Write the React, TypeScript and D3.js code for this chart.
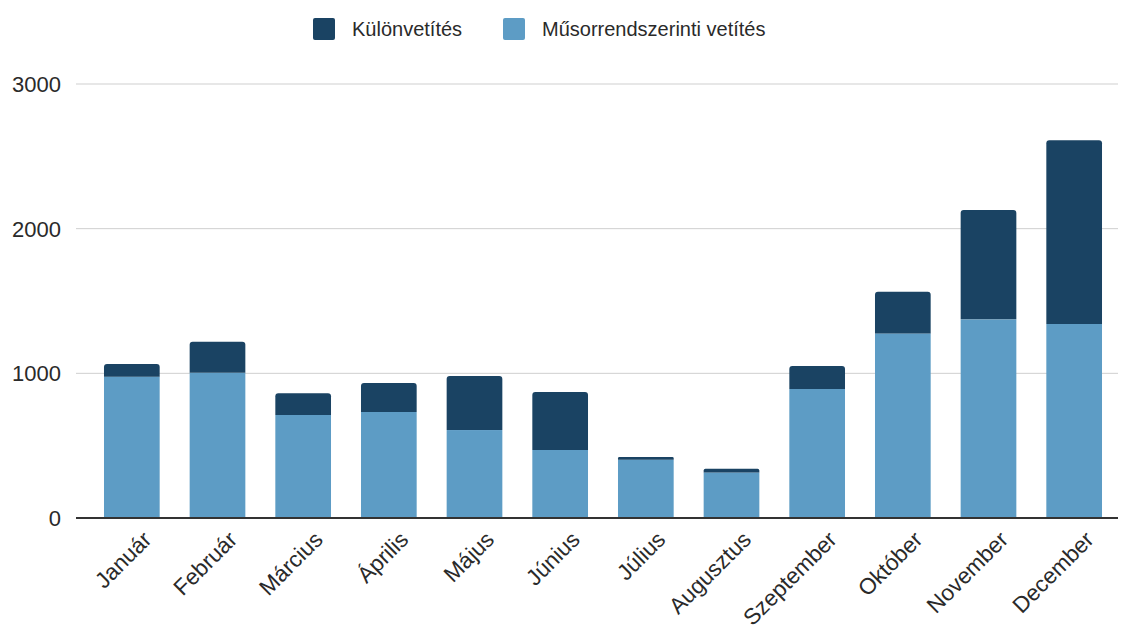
import { useEffect, useRef } from 'react';
import * as d3 from 'd3';

const months = [
  'Január', 'Február', 'Március', 'Április', 'Május', 'Június',
  'Július', 'Augusztus', 'Szeptember', 'Október', 'November', 'December',
];
// Műsorrendszerinti vetítés (bottom segment)
const regular = [977, 1004, 712, 733, 608, 470, 403, 315, 892, 1276, 1373, 1341];
// Különvetítés (top segment)
const special = [88, 214, 150, 200, 373, 401, 18, 25, 158, 288, 756, 1271];
const yTicks = [0, 1000, 2000, 3000];

const seriesNames = ['Különvetítés', 'Műsorrendszerinti vetítés'];
const DARK = '#1a4363';
const LIGHT = '#5d9cc5';

export default function App() {
  const svgRef = useRef<SVGSVGElement>(null);
  const width = 1121;
  const height = 632;

  useEffect(() => {
    if (!svgRef.current) return;
    const svg = d3.select(svgRef.current);
    svg.selectAll('*').remove();

    const font = '"Liberation Sans", Arial, sans-serif';
    const left = 76;
    const right = 1118;

    const x = d3.scaleBand<string>()
      .domain(months)
      .range([89, 1117])
      .paddingInner(0.35)
      .paddingOuter(0.175);

    const y = d3.scaleLinear().domain([0, 3000]).range([518, 84]);

    // gridlines
    svg.append('g')
      .selectAll('line')
      .data(yTicks.filter(d => d > 0))
      .join('line')
      .attr('x1', left)
      .attr('x2', right)
      .attr('y1', d => y(d))
      .attr('y2', d => y(d))
      .attr('stroke', '#cfcfcf')
      .attr('stroke-width', 1);

    // y labels
    svg.append('g')
      .selectAll('text')
      .data(yTicks)
      .join('text')
      .attr('x', 61)
      .attr('y', d => y(d))
      .attr('dy', '0.36em')
      .attr('text-anchor', 'end')
      .attr('font-family', font)
      .attr('font-size', 22)
      .attr('fill', '#2a2a2a')
      .text(d => d);

    const data = months.map((m, i) => ({ m, r: regular[i], s: special[i] }));
    const bw = x.bandwidth();

    // bottom segment
    svg.append('g')
      .selectAll('rect')
      .data(data)
      .join('rect')
      .attr('x', d => x(d.m)!)
      .attr('width', bw)
      .attr('y', d => y(d.r))
      .attr('height', d => y(0) - y(d.r))
      .attr('fill', LIGHT);

    // top segment with slightly rounded top corners
    const r = 3;
    svg.append('g')
      .selectAll('path')
      .data(data)
      .join('path')
      .attr('d', d => {
        const x0 = x(d.m)!;
        const x1 = x0 + bw;
        const yb = y(d.r);
        const yt = y(d.r + d.s);
        const rr = Math.min(r, (yb - yt) / 2);
        return `M${x0},${yb}V${yt + rr}Q${x0},${yt} ${x0 + rr},${yt}H${x1 - rr}Q${x1},${yt} ${x1},${yt + rr}V${yb}Z`;
      })
      .attr('fill', DARK);

    // baseline
    svg.append('line')
      .attr('x1', left)
      .attr('x2', right)
      .attr('y1', y(0))
      .attr('y2', y(0))
      .attr('stroke', '#333')
      .attr('stroke-width', 2);

    // x labels
    svg.append('g')
      .selectAll('text')
      .data(months)
      .join('text')
      .attr('transform', d => `translate(${x(d)! + bw / 2 + 21},${541}) rotate(-45)`)
      .attr('text-anchor', 'end')
      .attr('font-family', font)
      .attr('font-size', 22.5)
      .attr('fill', '#2a2a2a')
      .text(d => d);

    // legend
    const legend = svg.append('g');
    const legendX = [313, 503];
    seriesNames.forEach((name, i) => {
      legend.append('rect')
        .attr('x', legendX[i])
        .attr('y', 18)
        .attr('width', 22)
        .attr('height', 22)
        .attr('rx', 2)
        .attr('fill', i === 0 ? DARK : LIGHT);
      legend.append('text')
        .attr('x', legendX[i] + 39)
        .attr('y', 29)
        .attr('dy', '0.35em')
        .attr('font-family', font)
        .attr('font-size', 20)
        .attr('fill', '#2a2a2a')
        .text(name);
    });
  }, []);

  return (
    <svg
      ref={svgRef}
      width={width}
      height={height}
      style={{ position: 'absolute', left: 0, top: 0, background: '#fff' }}
    />
  );
}
